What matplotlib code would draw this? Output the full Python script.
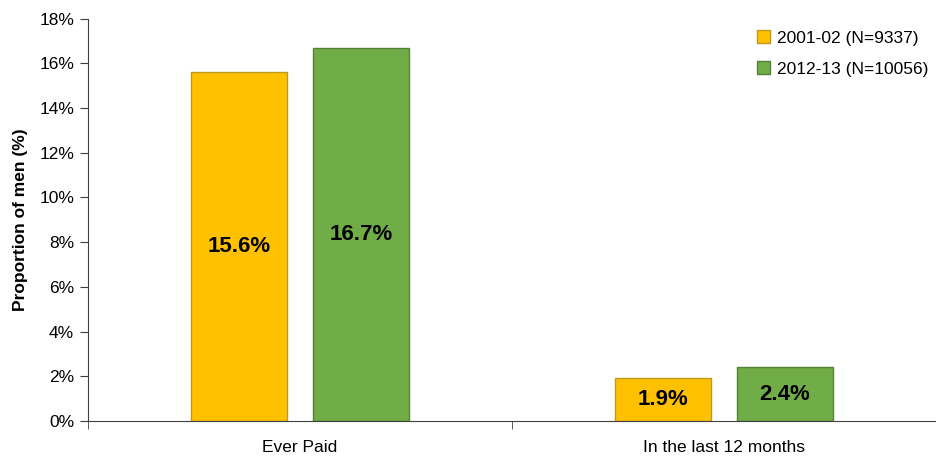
import numpy as np
import matplotlib.pyplot as plt
from matplotlib.ticker import FixedLocator, PercentFormatter

plt.rcParams['font.family'] = ['Liberation Sans', 'DejaVu Sans']

categories = ["Ever Paid", "In the last 12 months"]
series_names = ["2001-02 (N=9337)", "2012-13 (N=10056)"]
values_2001 = [15.6, 1.9]
values_2012 = [16.7, 2.4]

fill_colors = ["#FFC000", "#70AD47"]
edge_colors = ["#BF9A20", "#548235"]

fig = plt.figure(figsize=(9.37, 4.58), dpi=100)
ax = fig.add_axes([0.094, 0.081, 0.905, 0.878])

x = np.arange(len(categories)) + 0.5
width = 0.226
offset = 0.144

for i, vals in enumerate([values_2001, values_2012]):
    pos = x + (i * 2 - 1) * offset
    bars = ax.bar(pos, vals, width, color=fill_colors[i], edgecolor=edge_colors[i],
                  linewidth=1.0, label=series_names[i])
    for b, v in zip(bars, vals):
        ax.text(b.get_x() + b.get_width() / 2, v / 2, f"{v:.1f}%",
                ha="center", va="center", fontsize=16, fontweight="bold")

ax.set_xlim(0, 2)
ax.set_ylim(0, 18)
ax.set_yticks(np.arange(0, 19, 2))
ax.yaxis.set_major_formatter(PercentFormatter(decimals=0))
ax.set_xticks(x)
ax.set_xticklabels(categories)
ax.xaxis.set_minor_locator(FixedLocator([0, 1, 2]))
ax.tick_params(axis="x", which="major", length=0, labelsize=12.5, pad=14)
ax.tick_params(axis="x", which="minor", length=6, color="#404040", direction="out")
ax.tick_params(axis="y", length=6, color="#404040", labelsize=12.5, pad=4)

for s in ["top", "right"]:
    ax.spines[s].set_visible(False)
for s in ["left", "bottom"]:
    ax.spines[s].set_color("#404040")

ax.set_ylabel("Proportion of men (%)", fontsize=12.5, fontweight="bold", labelpad=8)

ax.legend(loc="upper right", bbox_to_anchor=(1.009, 1.01), frameon=False, fontsize=12.5,
          handlelength=0.75, handleheight=0.75, handletextpad=0.4, labelspacing=0.9)

fig.savefig("out.png", dpi=100)
